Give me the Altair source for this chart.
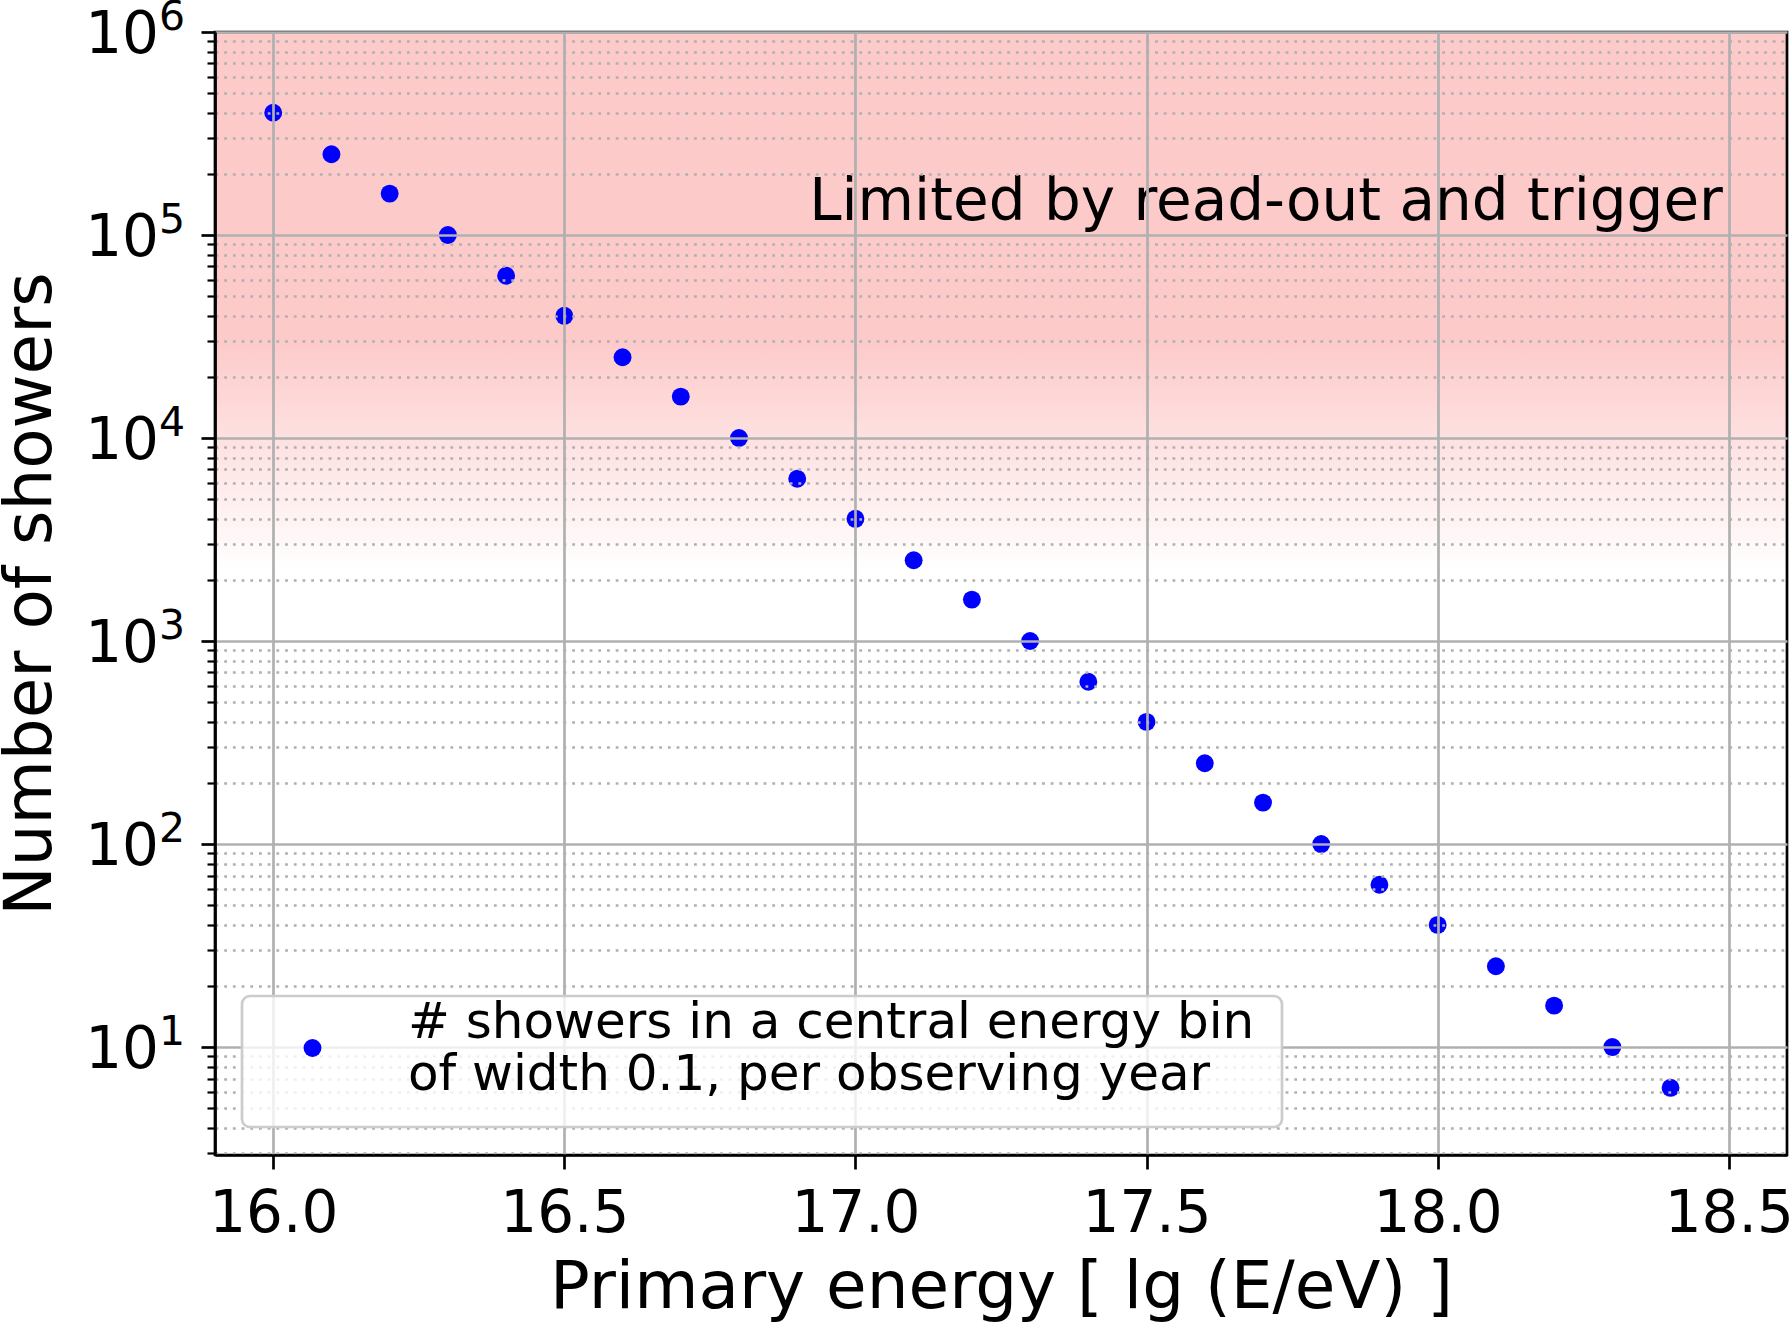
import math

import altair as alt
import pandas as pd

# Shower counts per 0.1-wide energy bin and observing year
energy = [16.0, 16.1, 16.2, 16.3, 16.4, 16.5, 16.6, 16.7, 16.8, 16.9,
          17.0, 17.1, 17.2, 17.3, 17.4, 17.5, 17.6, 17.7, 17.8, 17.9,
          18.0, 18.1, 18.2, 18.3, 18.4]
showers = [4.0e5, 2.5e5, 1.6e5, 1.0e5, 6.3e4, 4.0e4, 2.5e4, 1.6e4, 1.0e4, 6.3e3,
           4.0e3, 2.5e3, 1.6e3, 1.0e3, 630, 400, 250, 160, 100, 63,
           40, 25, 16, 10, 6.3]
series_label = "# showers in a central energy bin|of width 0.1, per observing year"

# Axis ranges and ticks
x_domain = [15.9, 18.6]
x_ticks = [16.0, 16.5, 17.0, 17.5, 18.0, 18.5]
y_domain = [2.94, 1.0e6]
y_ticks = [m * 10 ** k for k in range(0, 6) for m in range(1, 10)] + [1.0e6]
y_ticks = [v for v in y_ticks if y_domain[0] <= v <= y_domain[1]]

# Decade labels on the y axis, drawn as base "10" plus a raised exponent
decade_values = [1e1, 1e2, 1e3, 1e4, 1e5, 1e6]
decade_exponents = ["1", "2", "3", "4", "5", "6"]

# Shaded region: solid down to band_solid, fading out by band_fade
band_top = 1.0e6
band_solid = 3.0e4
band_fade = 2.2e3
note_text = "Limited by read-out and trigger"
note_x = 18.49
note_y = 1.19e5

W, H = 1572, 1123
FONT = "DejaVu Sans"
PINK = "#fdcaca"
GRID = "#b0b0b0"

x_scale = alt.Scale(domain=x_domain, nice=False, zero=False)
y_scale = alt.Scale(type="log", domain=y_domain, nice=False)

is_decade = "abs(log(datum.value)/LN10 - round(log(datum.value)/LN10)) < 0.001"

x_axis = alt.Axis(
    values=x_ticks, format=".1f", title="Primary energy [ lg (E/eV) ]",
    grid=True, gridColor=GRID, gridWidth=2.7,
    tickSize=14, tickWidth=2.7, tickColor="black",
    domainColor="black", domainWidth=2.7,
    labelFont=FONT, labelFontSize=58, labelColor="black", labelPadding=16,
    labelFlush=False, labelOverlap=False,
    titleFont=FONT, titleFontSize=66, titleFontWeight="normal", titleColor="black",
    titleY=152, titleBaseline="alphabetic", zindex=1,
)
y_axis = alt.Axis(
    values=y_ticks, labels=False,
    title="Number of showers",
    grid=True, gridColor=GRID,
    gridWidth=2.7,
    gridDash={"condition": {"test": is_decade, "value": []}, "value": [2.8, 5.9]},
    tickSize={"condition": {"test": is_decade, "value": 14}, "value": 8},
    tickWidth={"condition": {"test": is_decade, "value": 2.7}, "value": 2.2},
    tickColor="black",
    domainColor="black", domainWidth=2.7,
    titleFont=FONT, titleFontSize=66, titleFontWeight="normal", titleColor="black",
    titleX=-165, titleBaseline="alphabetic", zindex=1,
)

points_df = pd.DataFrame({"x": energy, "y": showers, "series": series_label})
band_df = pd.DataFrame({"y": [band_top], "y2": [band_fade]})
note_df = pd.DataFrame({"x": [note_x], "y": [note_y], "t": [note_text]})
decade_df = pd.DataFrame({"y": decade_values, "exp": decade_exponents, "base": "10"})
frame_df = pd.DataFrame({"k": [0]})

frac = (math.log10(band_top) - math.log10(band_solid)) / (math.log10(band_top) - math.log10(band_fade))

band = alt.Chart(band_df).mark_rect(
    fill=alt.LinearGradient(
        gradient="linear",
        stops=[alt.GradientStop(offset=0, color=PINK),
               alt.GradientStop(offset=frac, color=PINK),
               alt.GradientStop(offset=1, color="#ffffff")],
        x1=0, x2=0, y1=0, y2=1,
    )
).encode(
    x=alt.value(0), x2=alt.value(W),
    y=alt.Y("y:Q", scale=y_scale), y2="y2:Q",
)

points = alt.Chart(points_df).mark_circle(size=320, opacity=1).encode(
    x=alt.X("x:Q", scale=x_scale, axis=x_axis),
    y=alt.Y("y:Q", scale=y_scale, axis=y_axis),
    color=alt.Color(
        "series:N",
        scale=alt.Scale(range=["#0000ff"]),
        legend=alt.Legend(
            title=None, orient="none", legendX=27, legendY=964,
            labelExpr="split(datum.label, '|')",
            labelFont=FONT, labelFontSize=50, labelColor="black", labelLimit=0,
            labelBaseline="bottom",
            symbolType="circle", symbolSize=320, symbolStrokeWidth=0,
            symbolOffset=18.5, labelOffset=70.5, padding=27,
            fillColor="rgba(255,255,255,0.8)", strokeColor="#cccccc",
            cornerRadius=8, zindex=2,
        ),
    ),
)

note = alt.Chart(note_df).mark_text(
    align="right", baseline="alphabetic", font=FONT, fontSize=58, color="black"
).encode(
    x=alt.X("x:Q", scale=x_scale), y=alt.Y("y:Q", scale=y_scale), text="t:N"
)

# y tick labels: "10" with the exponent set as a superscript
decade_base = alt.Chart(decade_df).mark_text(
    align="right", baseline="alphabetic", font=FONT, fontSize=58, color="black", dy=21
).encode(x=alt.value(-56), y=alt.Y("y:Q", scale=y_scale), text="base:N")

decade_exp = alt.Chart(decade_df).mark_text(
    align="left", baseline="alphabetic", font=FONT, fontSize=41, color="black", dy=-2
).encode(x=alt.value(-56), y=alt.Y("y:Q", scale=y_scale), text="exp:N")

frame = alt.Chart(frame_df).mark_rect(
    filled=False, stroke="black", strokeWidth=2.7
).encode(x=alt.value(0), x2=alt.value(W), y=alt.value(0), y2=alt.value(H))

chart = (
    alt.layer(band, points, note, decade_base, decade_exp, frame)
    .properties(
        width=W, height=H,
        autosize=alt.AutoSizeParams(type="none"),
        padding={"left": 215, "top": 32, "right": 3, "bottom": 168},
        background="white",
    )
    .configure_view(strokeWidth=0)
    .configure_legend(strokeWidth=2.7)
)

chart.save("out.html", embed_options={"renderer": "svg", "actions": False})
